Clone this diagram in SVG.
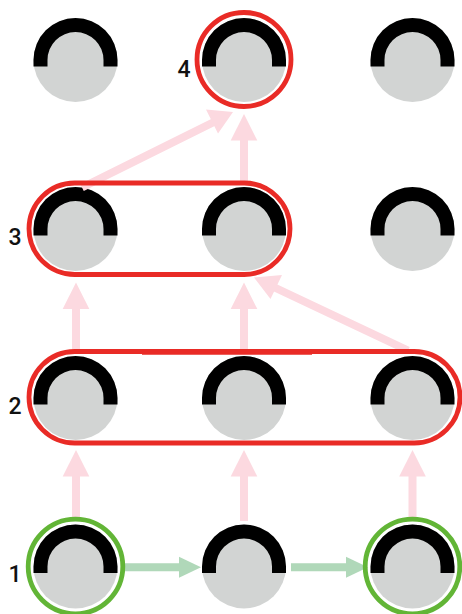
<svg xmlns="http://www.w3.org/2000/svg" width="462" height="614" viewBox="0 0 462 614">
<style>
.pink{stroke:#fcd9e0;stroke-width:8;fill:none}
.green{stroke:#b0d8b9;stroke-width:8;fill:none}
.ph{fill:#fcd9e0}
.gh{fill:#b0d8b9}
.red{stroke:#e92b26;stroke-width:4.800;fill:none}
.grn{stroke:#62b536;stroke-width:4.800;fill:none}
.lb{font-family:"Roboto","Liberation Sans",sans-serif;font-size:23px;font-weight:500;fill:#111}
</style>
<defs>
<g id="n">
<circle r="42" fill="#d2d4d3"/>
<path d="M-42 6.500V0A42 42 0 0 1 42 0V6.500H28V0A28 28 0 0 0 -28 0V6.500Z" fill="#000"/>
</g>
<polygon id="up" points="0,0 13.300,26.500 -13.300,26.500"/>
<polygon id="rt" points="0,0 -22,-10.500 -22,10.500"/>
</defs>
<g id="nodes-row-4">
<use id="n1" href="#n" x="75.500" y="60"/>
<use id="n2" href="#n" x="244" y="60"/>
<use id="n3" href="#n" x="412.500" y="60"/>
</g>
<g id="nodes-row-3">
<use id="n4" href="#n" x="75.500" y="229"/>
<use id="n5" href="#n" x="244" y="229"/>
<use id="n6" href="#n" x="412.500" y="229"/>
</g>
<g id="nodes-row-2">
<use id="n7" href="#n" x="75.500" y="398"/>
<use id="n8" href="#n" x="244" y="398"/>
<use id="n9" href="#n" x="412.500" y="398"/>
</g>
<g id="nodes-row-1">
<use id="n10" href="#n" x="75.500" y="566.500"/>
<use id="n11" href="#n" x="244" y="566.500"/>
<use id="n12" href="#n" x="412.500" y="566.500"/>
</g>
<g id="connectors">
<path class="pink" d="M76 517V470M244 521V470M412.500 517V470M76 351V302M244 351V302M244 183V134M82 187.500L222 118M408 350.500L264 282.500"/>
<use class="ph" href="#up" x="76" y="450"/>
<use class="ph" href="#up" x="244" y="450"/>
<use class="ph" href="#up" x="412.500" y="450"/>
<use class="ph" href="#up" x="76" y="282.500"/>
<use class="ph" href="#up" x="244" y="282.500"/>
<use class="ph" href="#up" x="244" y="114"/>
<polygon class="ph" points="233,112 206,109.500 218,133.500"/>
<polygon class="ph" points="254,277.500 270.500,299 282,275"/>
<path class="green" d="M125 567.300H184M291 567.300H350"/>
<use class="gh" href="#rt" x="201" y="567.300"/>
<use class="gh" href="#rt" x="368" y="567.300"/>
</g>
<g id="group-4"><circle class="red" cx="244" cy="59.500" r="47"/><text class="lb" x="177.500" y="77">4</text></g>
<g id="group-3"><rect class="red" x="29" y="183" width="261" height="91.500" rx="45.750"/><text class="lb" x="8.500" y="245">3</text></g>
<g id="group-2"><rect class="red" x="29" y="351.500" width="431" height="91.500" rx="45.750"/><path d="M142 352H312" stroke="#e92b26" stroke-width="5.700" fill="none"/><text class="lb" x="8.500" y="414">2</text></g>
<g id="group-1"><circle class="grn" cx="75.500" cy="566.500" r="47.300"/><circle class="grn" cx="412.500" cy="566.500" r="47.300"/><text class="lb" x="8.500" y="582">1</text></g>
</svg>
